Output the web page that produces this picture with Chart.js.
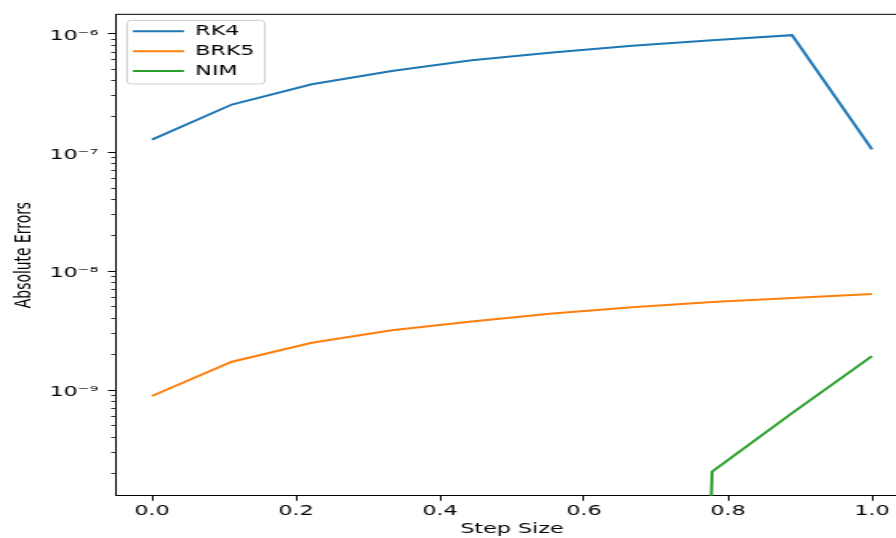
<!DOCTYPE html>
<html>
<head>
<meta charset="utf-8">
<script src="https://cdn.jsdelivr.net/npm/chart.js@4.4.1/dist/chart.umd.min.js"></script>
<style>
  html, body { margin: 0; padding: 0; background: #fff; }
  #frame { width: 896px; height: 538px; overflow: hidden; }
  /* the reference image is stretched 1.6x horizontally */
  #stretch { width: 575px; height: 538px; transform: scaleX(1.6); transform-origin: 0 0; }
  canvas { display: block; }
</style>
</head>
<body>
<div id="frame"><div id="stretch"><canvas id="grafico" width="575" height="538"></canvas></div></div>
<script>
const stepSizes = [0.0, 0.111, 0.222, 0.333, 0.444, 0.556, 0.667, 0.778, 0.889, 1.0];
const rk4Errors = [1.28e-7, 2.53e-7, 3.75e-7, 4.85e-7, 5.96e-7, 6.95e-7, 7.9e-7, 8.8e-7, 9.7e-7, 1.06e-7];
const brk5Errors = [8.9e-10, 1.73e-9, 2.5e-9, 3.19e-9, 3.78e-9, 4.4e-9, 4.98e-9, 5.5e-9, 5.95e-9, 6.42e-9];
// NIM is zero (off the bottom of the log axis) until 0.778
const nimErrors = [1e-30, 1e-30, 1e-30, 1e-30, 1e-30, 1e-30, 1e-30, 2.06e-10, 6.4e-10, 1.93e-9];

const xTicks = [0.0, 0.2, 0.4, 0.6, 0.8, 1.0];
const yMajorTicks = [1e-9, 1e-8, 1e-7, 1e-6];
const yTickLabels = ["10⁻⁹", "10⁻⁸", "10⁻⁷", "10⁻⁶"];
const xMin = -0.05, xMax = 1.05;
const yMin = 1.29e-10, yMax = 1.453e-6;

// minor log ticks 2..9 x 10^n inside the range
const yMinorTicks = [];
for (let e = -10; e <= -6; e++) {
  for (let k = 2; k <= 9; k++) {
    const v = k * Math.pow(10, e);
    if (v > yMin && v < yMax) yMinorTicks.push(v);
  }
}

const fonte = { family: "DejaVu Sans", size: 13.9 };
Chart.defaults.font.family = "DejaVu Sans";

function pares(valores) {
  return stepSizes.map((x, i) => ({ x: x, y: valores[i] }));
}

function serie(label, valores, cor) {
  return {
    label: label,
    data: pares(valores),
    borderColor: cor,
    backgroundColor: cor,
    borderWidth: 2,
    pointRadius: 0,
    tension: 0,
  };
}

const molduras = {
  id: "molduras",
  afterLayout(chart) {
    // put the legend where matplotlib has it (upper left, inside the axes)
    chart.legend.left = chart.chartArea.left + 4.6;
    chart.legend.top = chart.chartArea.top + 4;
  },
  beforeDraw(chart) {
    const hb = chart.legend.legendHitBoxes;
    if (!hb || !hb.length) return;
    const x0 = Math.min(...hb.map((h) => h.left)) - 3.7;
    const y0 = Math.min(...hb.map((h) => h.top)) - 4;
    const x1 = Math.max(...hb.map((h) => h.left + h.width)) + 6.4;
    const y1 = Math.max(...hb.map((h) => h.top + h.height)) + 6;
    const ctx = chart.ctx;
    ctx.save();
    ctx.beginPath();
    ctx.roundRect(x0, y0, x1 - x0, y1 - y0, 3);
    ctx.fillStyle = "rgba(255,255,255,0.8)";
    ctx.fill();
    ctx.strokeStyle = "#cccccc";
    ctx.lineWidth = 1;
    ctx.stroke();
    ctx.restore();
  },
  afterDraw(chart) {
    const a = chart.chartArea;
    const ctx = chart.ctx;
    ctx.save();
    ctx.strokeStyle = "#000";
    ctx.lineWidth = 1;
    ctx.beginPath();
    ctx.moveTo(a.left, a.top);
    ctx.lineTo(a.right, a.top);
    ctx.lineTo(a.right, a.bottom);
    ctx.stroke();
    ctx.restore();
  },
};

new Chart(document.getElementById("grafico"), {
  type: "line",
  data: {
    datasets: [
      serie("RK4", rk4Errors, "#1f77b4"),
      serie("BRK5", brk5Errors, "#ff7f0e"),
      serie("NIM", nimErrors, "#2ca02c"),
    ],
  },
  options: {
    responsive: false,
    animation: false,
    devicePixelRatio: 1,
    layout: { padding: { left: 0, top: 14, right: 7.5, bottom: 0 } },
    plugins: {
      tooltip: { enabled: false },
      legend: {
        position: "chartArea",
        align: "start",
        labels: {
          font: fonte,
          color: "#000",
          usePointStyle: true,
          pointStyle: "line",
          pointStyleWidth: 32,
          padding: 6,
        },
      },
    },
    scales: {
      x: {
        type: "linear",
        min: xMin,
        max: xMax,
        afterBuildTicks: (s) => { s.ticks = xTicks.map((v) => ({ value: v })); },
        afterFit: (s) => { s.height = 42.3; },
        grid: { drawOnChartArea: false, tickLength: 5, tickColor: "#000", tickWidth: 1 },
        border: { color: "#000", width: 1 },
        ticks: { autoSkip: false, maxRotation: 0, padding: 2, color: "#000", font: fonte,
          callback: (v) => Number(v).toFixed(1) },
        title: { display: true, text: "Step Size", color: "#000", font: fonte, padding: { top: 0, bottom: 0.5 } },
      },
      y: {
        type: "logarithmic",
        position: "left",
        weight: 1,
        min: yMin,
        max: yMax,
        bounds: "data",
        afterBuildTicks: (s) => { s.ticks = yMajorTicks.map((v) => ({ value: v })); },
        afterFit: (s) => { s.width = 72.5; },
        grid: { drawOnChartArea: false, tickLength: 5, tickColor: "#000", tickWidth: 1 },
        border: { color: "#000", width: 1 },
        ticks: { autoSkip: false, padding: 6, labelOffset: 2.5, color: "#000", font: fonte,
          callback: (v, i) => yTickLabels[i] },
        title: { display: true, text: "Absolute Errors", color: "#000", font: fonte, padding: { top: 7, bottom: 0 } },
      },
      yMinor: {
        type: "logarithmic",
        position: "left",
        weight: 0,
        min: yMin,
        max: yMax,
        bounds: "data",
        afterBuildTicks: (s) => { s.ticks = yMinorTicks.map((v) => ({ value: v })); },
        afterFit: (s) => { s.width = 0; },
        grid: { drawOnChartArea: false, tickLength: 3, tickColor: "#000", tickWidth: 0.8 },
        border: { display: false },
        ticks: { autoSkip: false, padding: 0, callback: () => "" },
      },
    },
  },
  plugins: [molduras],
});
</script>
</body>
</html>
